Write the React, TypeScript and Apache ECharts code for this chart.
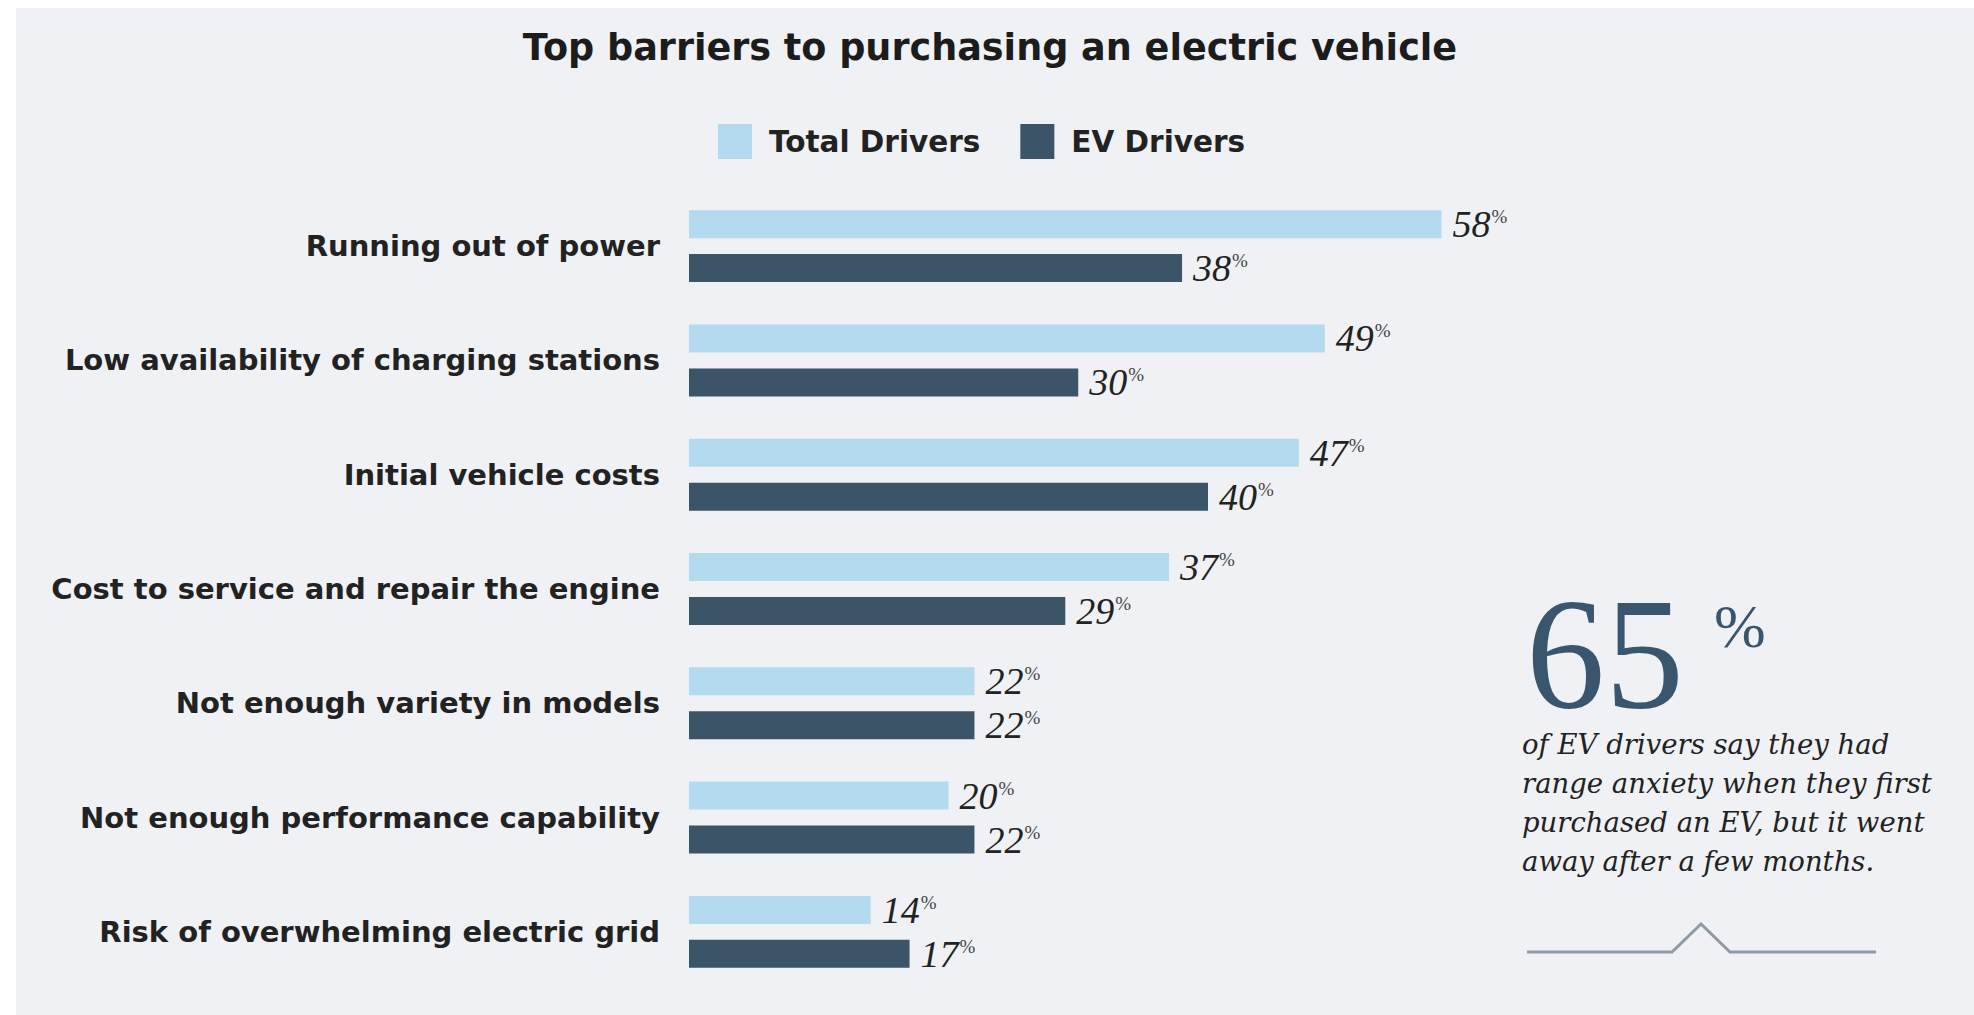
import React, { useEffect, useRef } from "react";
import * as echarts from "echarts";

const categories = [
  "Running out of power",
  "Low availability of charging stations",
  "Initial vehicle costs",
  "Cost to service and repair the engine",
  "Not enough variety in models",
  "Not enough performance capability",
  "Risk of overwhelming electric grid",
];
const totalDrivers = [58, 49, 47, 37, 22, 20, 14];
const evDrivers = [38, 30, 40, 29, 22, 22, 17];
const seriesNames = ["Total Drivers", "EV Drivers"];
const titleText = "Top barriers to purchasing an electric vehicle";
const calloutValue = "65";
const calloutText = [
  "of EV drivers say they had",
  "range anxiety when they first",
  "purchased an EV, but it went",
  "away after a few months.",
];

const LIGHT = "#b4daf0";
const DARK = "#3c5467";
const BG = "#eff1f4";
const SERIF = "'Liberation Serif', 'DejaVu Serif', serif";
const WIDE_SERIF = "'DejaVu Serif', 'Liberation Serif', serif";
const SANS = "'DejaVu Sans', 'Open Sans', sans-serif";

export default function App() {
  const ref = useRef<HTMLDivElement>(null);
  useEffect(() => {
    document.body.style.margin = "0";
    const chart = echarts.init(ref.current!, null, { renderer: "svg" });
    const label = {
      show: true,
      position: "right",
      distance: 11,
      formatter: (p: any) => `{a|${p.value}}{b|%}`,
      rich: {
        a: { fontFamily: SERIF, fontStyle: "italic", fontSize: 38, color: "#222", lineHeight: 36 },
        b: { fontFamily: SERIF, fontSize: 19, color: "#444", verticalAlign: "top", lineHeight: 20, padding: [1, 0, 0, 1] },
      },
    };
    chart.setOption({
      animation: false,
      backgroundColor: "#ffffff",
      graphic: [
        { type: "rect", z: -10, shape: { x: 16, y: 8, width: 1974 - 16, height: 1015 - 8 }, style: { fill: BG } },
        {
          type: "text", x: 990, y: 47,
          style: { text: titleText, fontFamily: SANS, fontWeight: "bold", fontSize: 36.6, fill: "#1c1c1c", align: "center", verticalAlign: "middle" },
        },
        {
          type: "text", x: 1526, y: 653,
          style: { text: calloutValue, fontFamily: SERIF, fontSize: 158, lineHeight: 100, fill: "#3a566e", align: "left", verticalAlign: "middle" },
        },
        {
          type: "text", x: 1714, y: 626,
          style: { text: "%", fontFamily: SERIF, fontSize: 62, lineHeight: 50, fill: "#3a566e", align: "left", verticalAlign: "middle" },
        },
        {
          type: "text", x: 1522, y: 724,
          style: { text: calloutText.join("\n"), fontFamily: WIDE_SERIF, fontStyle: "italic", fontSize: 27.5, lineHeight: 39, fill: "#222", align: "left", verticalAlign: "top" },
        },
        {
          type: "polyline",
          shape: { points: [[1527, 952], [1672, 952], [1701, 924], [1730, 952], [1876, 952]] },
          style: { stroke: "#8e9aa4", lineWidth: 3, fill: "none" },
        },
      ],
      legend: {
        left: 713, top: 119,
        itemWidth: 34, itemHeight: 35, itemGap: 40,
        icon: "rect",
        textStyle: { fontFamily: SANS, fontWeight: "bold", fontSize: 29.5, color: "#222", padding: [0, 0, 0, 12] },
        data: seriesNames,
      },
      grid: { left: 689, top: 189, width: 1038, height: 800, containLabel: false },
      xAxis: { type: "value", min: 0, max: 80, show: false, splitLine: { show: false } },
      yAxis: {
        type: "category", data: categories, inverse: true,
        axisLine: { show: false }, axisTick: { show: false },
        axisLabel: { margin: 29, fontFamily: SANS, fontWeight: "bold", fontSize: 29, color: "#222" },
      },
      series: [
        { name: seriesNames[0], type: "bar", data: totalDrivers, barWidth: 28, barGap: "57%", itemStyle: { color: LIGHT }, label },
        { name: seriesNames[1], type: "bar", data: evDrivers, barWidth: 28, barGap: "57%", itemStyle: { color: DARK }, label },
      ],
    });
    return () => chart.dispose();
  }, []);
  return <div ref={ref} style={{ width: 1974, height: 1015 }} />;
}
